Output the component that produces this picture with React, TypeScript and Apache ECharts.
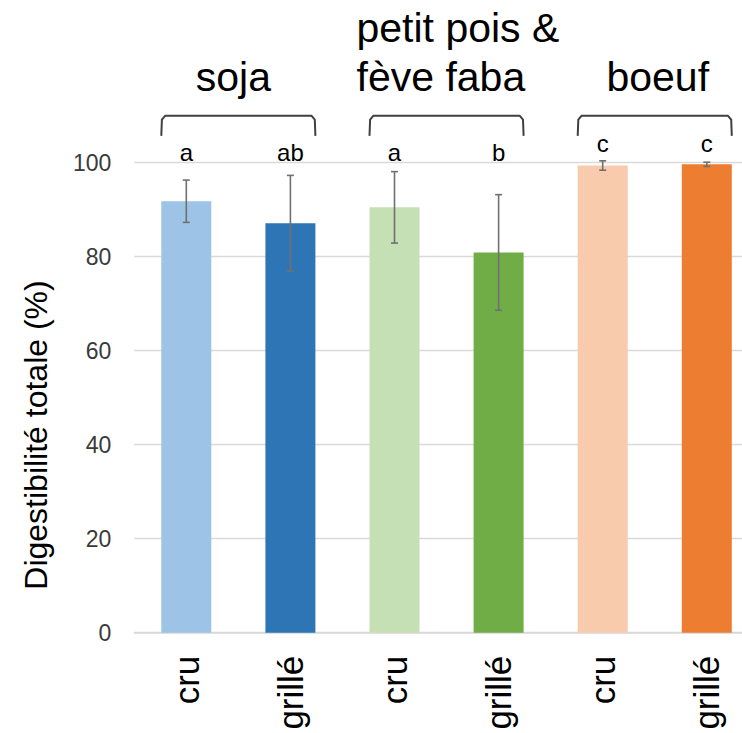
import React, { useEffect, useRef } from "react";
import * as echarts from "echarts";

// Digestibilité totale (%) par aliment et traitement
const categories = ["cru", "grillé", "cru", "grillé", "cru", "grillé"];
const digestibility = [91.8, 87.1, 90.5, 80.9, 99.4, 99.65];
const errorMargins = [4.5, 10.2, 7.6, 12.3, 1.0, 0.45];
const letters = ["a", "ab", "a", "b", "c", "c"];
const letterLevels = [99.6, 99.6, 99.6, 99.6, 101.6, 101.6];
const groupNames = ["soja", "petit pois &\nfève faba", "boeuf"];
const groupFirstBar = [0, 2, 4];
const groupLastBar = [1, 3, 5];
const barColors = ["#9DC3E6", "#2E75B6", "#C5E0B4", "#70AD47", "#F8CBAD", "#ED7D31"];

const FONT = "'Liberation Sans', Arial, sans-serif";
const BAR_WIDTH = 50;
const BRACKET_TOP = 110;
const BRACKET_BOTTOM = 105.7;

export default function App() {
  const ref = useRef<HTMLDivElement>(null);

  useEffect(() => {
    if (!ref.current) return;
    const chart = echarts.init(ref.current, null, { renderer: "svg" });

    chart.setOption({
      animation: false,
      textStyle: { fontFamily: FONT },
      grid: {
        left: 134.25,
        top: 162.7,
        width: 624.6,
        height: 470,
        containLabel: false,
        outerBoundsMode: "none",
      },
      xAxis: {
        type: "category",
        data: categories,
        boundaryGap: true,
        axisLine: { show: true, lineStyle: { color: "#D9D9D9", width: 1.5 } },
        axisTick: { show: false },
        axisLabel: {
          rotate: 90,
          margin: 23,
          fontSize: 35,
          color: "#000",
          fontFamily: FONT,
        },
      },
      yAxis: {
        type: "value",
        min: 0,
        max: 100,
        interval: 20,
        axisLine: { show: false },
        axisTick: { show: false },
        axisLabel: { fontSize: 23, color: "#3a3a3a", margin: 23, fontFamily: FONT },
        splitLine: { lineStyle: { color: "#D9D9D9", width: 1.3 } },
      },
      graphic: [
        {
          type: "text",
          x: 36,
          y: 435,
          rotation: Math.PI / 2,
          style: {
            text: "Digestibilité totale (%)",
            font: `32px ${FONT}`,
            fill: "#000",
            align: "center",
            verticalAlign: "middle",
          },
        },
      ],
      series: [
        {
          type: "bar",
          barWidth: BAR_WIDTH,
          data: digestibility.map((v, i) => ({ value: v, itemStyle: { color: barColors[i] } })),
          z: 2,
        },
        {
          // barres d'erreur
          type: "custom",
          z: 3,
          data: digestibility.map((v, i) => [i, v - errorMargins[i], v + errorMargins[i]]),
          renderItem: (params: any, api: any) => {
            const lo = api.coord([api.value(0), api.value(1)]);
            const hi = api.coord([api.value(0), api.value(2)]);
            const cap = 3.5;
            const style = { stroke: "#707070", lineWidth: 1.6 };
            return {
              type: "group",
              children: [
                { type: "line", shape: { x1: lo[0], y1: lo[1], x2: hi[0], y2: hi[1] }, style },
                { type: "line", shape: { x1: lo[0] - cap, y1: lo[1], x2: lo[0] + cap, y2: lo[1] }, style },
                { type: "line", shape: { x1: hi[0] - cap, y1: hi[1], x2: hi[0] + cap, y2: hi[1] }, style },
              ],
            };
          },
        },
        {
          // lettres de significativité
          type: "custom",
          z: 4,
          clip: false,
          data: letters.map((_, i) => [i, letterLevels[i]]),
          renderItem: (params: any, api: any) => {
            const p = api.coord([api.value(0), api.value(1)]);
            return {
              type: "text",
              x: p[0],
              y: p[1],
              style: {
                text: letters[params.dataIndex],
                font: `24px ${FONT}`,
                fill: "#000",
                align: "center",
                verticalAlign: "bottom",
              },
            };
          },
        },
        {
          // accolades et noms des groupes
          type: "custom",
          z: 4,
          clip: false,
          data: groupNames.map((_, g) => [groupFirstBar[g], groupLastBar[g]]),
          renderItem: (params: any, api: any) => {
            const g = params.dataIndex;
            const a = api.coord([api.value(0), BRACKET_TOP]);
            const b = api.coord([api.value(1), BRACKET_BOTTOM]);
            const l = a[0] - BAR_WIDTH / 2;
            const r = b[0] + BAR_WIDTH / 2;
            const t = a[1];
            const btm = b[1];
            const name = groupNames[g];
            const multi = name.indexOf("\n") >= 0;
            const cx = (l + r) / 2;
            return {
              type: "group",
              children: [
                {
                  type: "polyline",
                  shape: {
                    points: [
                      [l, btm],
                      [l + 0.6, t + 4],
                      [l + 4, t],
                      [r - 4, t],
                      [r - 0.6, t + 4],
                      [r, btm],
                    ],
                  },
                  style: { stroke: "#404040", lineWidth: 2, fill: null, lineJoin: "round" },
                },
                {
                  type: "text",
                  x: multi ? l - 13 : cx + (g === 0 ? -5 : 3),
                  y: t - 14,
                  style: {
                    text: name,
                    font: `41px ${FONT}`,
                    lineHeight: 49,
                    fill: "#000",
                    align: multi ? "left" : "center",
                    verticalAlign: "bottom",
                  },
                },
              ],
            };
          },
        },
      ],
    });

    return () => chart.dispose();
  }, []);

  return (
    <div
      ref={ref}
      style={{ position: "absolute", left: 0, top: 0, width: 742, height: 733, background: "#fff" }}
    />
  );
}
